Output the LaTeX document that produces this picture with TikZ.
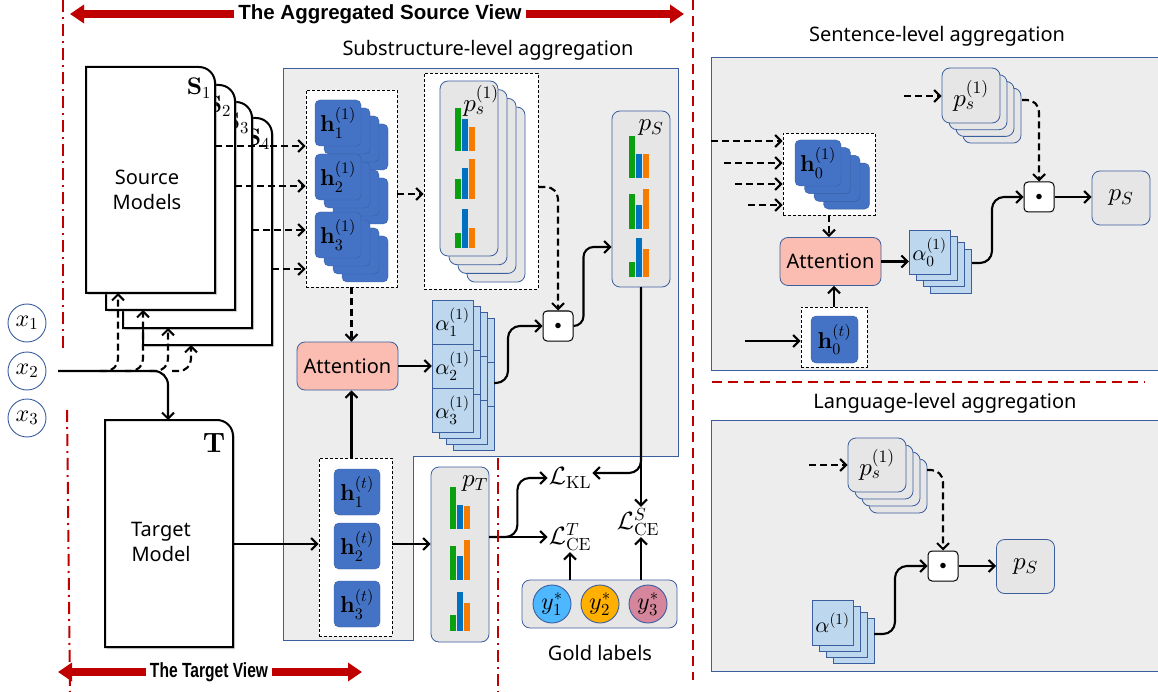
\documentclass[tikz,border=0pt]{standalone}
\usepackage[no-math]{fontspec}
\usepackage{graphicx}
\newfontfamily\uifont{Noto Sans}
\newfontfamily\hdrfont{Liberation Sans}
\usetikzlibrary{arrows.meta,positioning,shadows}

% scalable math fonts
\DeclareFontFamily{OML}{cmm}{\skewchar\font127 }
\DeclareFontShape{OML}{cmm}{m}{it}{<->cmmi10}{}
\DeclareFontShape{OML}{cmm}{b}{it}{<->cmmib10}{}
\DeclareFontFamily{OMS}{cmsy}{\skewchar\font48 }
\DeclareFontShape{OMS}{cmsy}{m}{n}{<->cmsy10}{}
\DeclareFontFamily{OT1}{cmr}{\hyphenchar\font45 }
\DeclareFontShape{OT1}{cmr}{m}{n}{<->cmr10}{}
\DeclareFontShape{OT1}{cmr}{bx}{n}{<->cmbx10}{}
\DeclareFontFamily{OMX}{cmex}{}
\DeclareFontShape{OMX}{cmex}{m}{n}{<->cmex10}{}

\definecolor{viewred}{HTML}{C00000}
\definecolor{hblue}{HTML}{4472C4}
\definecolor{lineblue}{HTML}{3A5E9E}
\definecolor{ablue}{HTML}{BDD7EE}
\definecolor{cardgray}{HTML}{E6E6E6}
\definecolor{panelgray}{HTML}{EDEDED}
\definecolor{attpink}{HTML}{FBBDB1}
\definecolor{bargreen}{HTML}{0BA00F}
\definecolor{barblue}{HTML}{0070C0}
\definecolor{barorange}{HTML}{F57C00}
\definecolor{goldA}{HTML}{4DB8FF}
\definecolor{goldB}{HTML}{FFB000}
\definecolor{goldC}{HTML}{D5869C}

% page with a rounded top-right corner: left, top, right, bottom
\newcommand\srcpage[4]{%
  \draw[pageline] (#1,#4) -- (#1,#2) -- (#3-16,#2)
    arc[start angle=90,end angle=0,radius=16pt] -- (#3,#4) -- cycle;}
% three bars: left, bottom, green, blue, orange heights
\newcommand\bargroup[5]{%
  \fill[bargreen] (#1,#2) rectangle ++(6,-#3);
  \fill[barblue] (#1+7,#2) rectangle ++(6,-#4);
  \fill[barorange] (#1+14,#2) rectangle ++(6,-#5);}

\tikzset{
  lbl/.style={font=\fontsize{25}{29}\selectfont, inner sep=1pt},
  txt/.style={font=\uifont\fontsize{20}{25}\selectfont, align=center},
  hdr/.style={font=\hdrfont\bfseries\fontsize{20.5}{24}\selectfont, inner sep=4pt},
  hcell/.style={draw=lineblue, fill=hblue, rounded corners=5pt, minimum size=46pt,
    inner sep=0pt, font=\fontsize{23}{27}\selectfont},
  acell/.style={draw=lineblue, fill=ablue, minimum width=41pt, minimum height=44pt,
    inner sep=0pt, font=\fontsize{22}{26}\selectfont},
  pcard/.style={draw=lineblue, fill=cardgray, rounded corners=8pt, inner sep=0pt,
    line width=0.8pt, font=\fontsize{25}{29}\selectfont},
  dbox/.style={draw=black, fill=white, dash pattern=on 3pt off 2pt, line width=0.8pt,
    inner sep=0pt},
  attbox/.style={draw=lineblue, fill=attpink, rounded corners=8pt, line width=0.8pt,
    minimum width=101pt, minimum height=48pt, txt},
  odot/.style={draw=black, fill=white, rounded corners=4pt, minimum size=30pt,
    inner sep=0pt, line width=1pt, font=\fontsize{14}{16}\selectfont},
  panel/.style={draw=lineblue, fill=panelgray, line width=0.8pt},
  inputnode/.style={circle, draw=lineblue, minimum size=38pt, inner sep=0pt,
    line width=0.9pt, font=\fontsize{24}{28}\selectfont},
  goldnode/.style={inputnode, draw=lineblue},
  flow/.style={line width=2.1pt, -{Straight Barb[length=6pt,width=12pt]}},
  dflow/.style={flow, dash pattern=on 7pt off 4pt},
  pageline/.style={draw=black, fill=white, line width=2pt,
    drop shadow={shadow xshift=2pt, shadow yshift=-2pt, opacity=0.3}},
  viewarrow/.style={viewred, line width=8pt, -{Triangle[length=14pt,width=18pt]}},
  viewline/.style={viewred, line width=2pt, dash pattern=on 12pt off 5pt on 2pt off 5pt},
  viewdash/.style={viewred, line width=2.2pt, dash pattern=on 10pt off 6pt},
}

\begin{document}
\begin{tikzpicture}[x=1pt,y=-1pt]
  \useasboundingbox (0,0) rectangle (1158,692);

  % Panels
  \draw[panel] (283,68) -- (678,68) -- (678,456) -- (413,456) -- (413,640)
    -- (283,640) -- cycle;
  \draw[panel] (711,57) rectangle (1165,370);
  \draw[panel] (711,420) rectangle (1165,671);
  \node[txt] (subttl) at (488,50) {Substructure-level aggregation};
  \node[txt] (senttl) at (937,36) {Sentence-level aggregation};
  \node[txt] (lanttl) at (945,403) {Language-level aggregation};

  % Source models
  \srcpage{143}{118}{272}{345}
  \node[lbl, font=\fontsize{24}{28}\selectfont] at (258,139) {$\mathbf{S}_4$};
  \srcpage{123}{102}{252}{328}
  \node[lbl, font=\fontsize{24}{28}\selectfont] at (237,123) {$\mathbf{S}_3$};
  \srcpage{106}{85}{235}{310}
  \node[lbl, font=\fontsize{24}{28}\selectfont] at (219,106) {$\mathbf{S}_2$};
  \srcpage{86}{67}{215}{293}
  \node[lbl, font=\fontsize{24}{28}\selectfont] at (199,88) {$\mathbf{S}_1$};
  \node[txt] (srctxt) at (147,190) {Source\\Models};
  \coordinate (in1) at (118,293);
  \coordinate (in2) at (143,310);
  \coordinate (in3) at (168,328);
  \coordinate (in4) at (191,345);
  \coordinate (out1) at (215,146);
  \coordinate (out2) at (235,186);
  \coordinate (out3) at (252,230);
  \coordinate (out4) at (272,269);

  % Target model
  \srcpage{105}{420}{233}{647}
  \node[lbl, font=\fontsize{28}{32}\selectfont] at (214,443) {$\mathbf{T}$};
  \node[txt] (tgttxt) at (161,542) {Target\\Model};
  \coordinate (Ttop) at (168,420);
  \coordinate (Tout) at (233,544);

  % Inputs
  \node[inputnode] (x1) at (27,323) {$x_1$};
  \node[inputnode] (x2) at (27,371) {$x_2$};
  \node[inputnode] (x3) at (27,418) {$x_3$};
  \coordinate (inp) at (58,371);
  \draw[flow, rounded corners=14pt] (inp) -- (168,371) -- (Ttop);
  \foreach \i/\bx in {1/100,2/125,3/150,4/172}
    \draw[dflow, rounded corners=12pt] (\bx,371) -| (in\i);

  % Substructure-level: source states
  \node[dbox, minimum width=91pt, minimum height=197pt] (hsbox) at (351.5,188.5) {};
  \foreach \j/\yy in {1/123,2/177,3/235} {
    \foreach \k in {3,2,1}
      \node[hcell] at (338+9*\k,\yy+8*\k) {};
    \node[hcell] (h\j) at (338,\yy) {$\mathbf{h}_\j^{(1)}$};
  }
  \foreach \i in {1,...,4}
    \draw[dflow] (out\i) -- (out\i -| hsbox.west);

  % Source predictions
  \node[dbox, minimum width=114pt, minimum height=216pt] (psbox) at (481,181) {};
  \foreach \k in {3,2,1}
    \node[pcard, minimum width=58pt, minimum height=175pt] at (469+9*\k,168.5+8.7*\k) {};
  \node[pcard, minimum width=58pt, minimum height=175pt] (ps) at (469,168.5) {};
  \node[lbl] at (481,101) {$p_s^{(1)}$};
  \bargroup{455}{151}{43}{32}{24}
  \bargroup{455}{199}{20}{31}{40}
  \bargroup{455}{248}{15}{39}{20}
  \draw[dflow] ([yshift=-5.5pt]hsbox.east) -- ([yshift=-5.5pt]hsbox.east -| psbox.west);

  % Attention and weights
  \node[attbox] (att) at (347.5,366) {Attention};
  \draw[dflow] (hsbox.south) -- (hsbox.south |- att.north);
  \foreach \k in {3,2,1}
    \foreach \j in {0,1,2}
      \node[acell] at (452.5+7*\k,322+44*\j+6*\k) {};
  \node[acell] (a1) at (452.5,322) {$\alpha_1^{(1)}$};
  \node[acell] (a2) at (452.5,366) {$\alpha_2^{(1)}$};
  \node[acell] (a3) at (452.5,410) {$\alpha_3^{(1)}$};
  \draw[flow] (att.east) -- (att.east -| a2.west);
  \coordinate (aout) at (494,383);

  % Weighted sum
  \node[odot] (dot) at (558,326) {$\bullet$};
  \draw[dflow, rounded corners=12pt] ([yshift=-6pt]psbox.east) -| (dot.north);
  \draw[flow, rounded corners=12pt] (aout) -- ++(14,0) |- (dot.west);
  \node[pcard, minimum width=58pt, minimum height=176pt] (pS) at (641,199) {};
  \node[lbl] at (651,128) {$p_S$};
  \bargroup{629}{178}{42}{24}{24}
  \bargroup{629}{229}{35}{24}{40}
  \bargroup{629}{277}{15}{39}{28}
  \draw[flow, rounded corners=10pt] (dot.east) -- ++(10,0) |- ([yshift=-48pt]pS.west);

  % Target states
  \node[dbox, minimum width=73pt, minimum height=178pt] (htbox) at (355.5,547) {};
  \node[hcell] (ht1) at (357,492) {$\mathbf{h}_1^{(t)}$};
  \node[hcell] (ht2) at (357,546) {$\mathbf{h}_2^{(t)}$};
  \node[hcell] (ht3) at (357,604) {$\mathbf{h}_3^{(t)}$};
  \draw[flow] (Tout) -- (Tout -| htbox.west);
  \draw[flow] (hsbox.south |- htbox.north) -- (hsbox.south |- att.south);

  % Target prediction
  \node[pcard, minimum width=58pt, minimum height=175pt] (pT) at (460,554.5) {};
  \node[lbl] at (475,484) {$p_T$};
  \bargroup{450}{529}{42}{24}{23}
  \bargroup{450}{580}{34}{24}{40}
  \bargroup{450}{631}{16}{39}{28}
  \draw[flow] (Tout -| htbox.east) -- (Tout -| pT.west);

  % Losses
  \node[lbl] (LKL) at (570,478) {$\mathcal{L}_{\mathrm{KL}}$};
  \node[lbl] (LCET) at (570,537) {$\mathcal{L}_{\mathrm{CE}}^{T}$};
  \node[lbl] (LCES) at (638,522) {$\mathcal{L}_{\mathrm{CE}}^{S}$};
  \draw[flow] (pT.east |- LCET.west) -- (LCET.west);
  \draw[flow, rounded corners=12pt] (pT.east |- LCET.west) -- ++(28,0) |- (LKL.west);
  \draw[flow] (pS.south) -- (pS.south |- LCES.north);
  \draw[flow, rounded corners=12pt] (pS.south) |- ([yshift=5pt]LKL.east);

  % Gold labels
  \node[pcard, minimum width=155pt, minimum height=48pt] (gold) at (599.5,604) {};
  \node[goldnode, fill=goldA] (y1) at (552,604) {$y_1^*$};
  \node[goldnode, fill=goldB] (y2) at (600,604) {$y_2^*$};
  \node[goldnode, fill=goldC] (y3) at (648,604) {$y_3^*$};
  \node[txt] (goldtxt) at (600,653) {Gold labels};
  \draw[flow] (gold.north -| LCET.south) -- (LCET.south);
  \draw[flow] (pS.south |- gold.north) -- (pS.south |- LCES.south);

  % Sentence-level aggregation
  \node[dbox, minimum width=92pt, minimum height=82pt] (h0box) at (829,174) {};
  \foreach \k in {3,2,1}
    \node[hcell] at (818+9.5*\k,163+7.7*\k) {};
  \node[hcell] (h0) at (818,163) {$\mathbf{h}_0^{(1)}$};
  \foreach \i/\sx/\sy in {1/711/141,2/724/163,3/735/184,4/748/205} {
    \coordinate (hin\i) at (\sx,\sy);
    \draw[dflow] (hin\i) -- (hin\i -| h0box.west);
  }
  \node[attbox] (att2) at (830.5,261.5) {Attention};
  \draw[dflow] (h0box.south) -- (h0box.south |- att2.north);
  \node[dbox, minimum width=66pt, minimum height=60pt] (ht0box) at (834,337) {};
  \node[hcell, minimum size=47pt] (ht0) at (834.5,339.5) {$\mathbf{h}_0^{(t)}$};
  \coordinate (tin) at (745,341);
  \draw[flow] (tin) -- (tin -| ht0box.west);
  \draw[flow] (ht0box.north) -- (ht0box.north |- att2.south);
  \foreach \k in {3,2,1}
    \node[acell] at (929.5+7*\k,252+6.3*\k) {};
  \node[acell] (a0) at (929.5,252) {$\alpha_0^{(1)}$};
  \draw[flow] (att2.east) -- (att2.east -| a0.west);
  \foreach \k in {3,2,1}
    \node[pcard, minimum width=58pt, minimum height=55pt] at (971+7*\k,95.5+6.7*\k) {};
  \node[pcard, minimum width=58pt, minimum height=55pt] (ps2) at (971,95.5) {$p_s^{(1)}$};
  \coordinate (psin2) at (904,96);
  \draw[dflow] (psin2) -- (psin2 -| ps2.west);
  \node[odot] (dot2) at (1039,197) {$\bullet$};
  \coordinate (ps2out) at (1022,100);
  \draw[dflow, rounded corners=12pt] (ps2out) -| (dot2.north);
  \coordinate (a0out) at (972,263);
  \draw[flow, rounded corners=12pt] (a0out) -- ++(20,0) |- (dot2.west);
  \node[pcard, minimum width=58pt, minimum height=54pt] (pS2) at (1121,198) {$p_S$};
  \draw[flow] (dot2.east) -- (dot2.east -| pS2.west);

  % Language-level aggregation
  \foreach \k in {3,2,1}
    \node[pcard, minimum width=58pt, minimum height=54pt] at (877+7*\k,465+7*\k) {};
  \node[pcard, minimum width=58pt, minimum height=54pt] (ps3) at (877,465) {$p_s^{(1)}$};
  \coordinate (psin3) at (809,465);
  \draw[dflow] (psin3) -- (psin3 -| ps3.west);
  \node[odot] (dot3) at (943,566) {$\bullet$};
  \coordinate (ps3out) at (927,470);
  \draw[dflow, rounded corners=12pt] (ps3out) -| (dot3.north);
  \foreach \k in {3,2,1}
    \node[acell, minimum height=45pt] at (832.5+7*\k,622.5+6*\k) {};
  \node[acell, minimum height=45pt] (a3l) at (832.5,622.5) {$\alpha^{(1)}$};
  \coordinate (a3out) at (874,634);
  \draw[flow, rounded corners=12pt] (a3out) -- ++(21,0) |- (dot3.west);
  \node[pcard, minimum width=58pt, minimum height=54pt] (pS3) at (1025.5,566.5) {$p_S$};
  \draw[flow] (dot3.east) -- (dot3.east -| pS3.west);

  % View markers
  \draw[viewline] (63,0) -- (63,352);
  \draw[viewline] (67,410) -- (70,692);
  \draw[viewline] (498,458) -- (498,692);
  \draw[viewdash] (693,0) -- (693,680);
  \draw[viewdash] (712,382) -- (1145,382);
  \node[hdr] (aggview) at (380,14) {The Aggregated Source View};
  \coordinate (aggL) at (70,14);
  \coordinate (aggR) at (684,14);
  \draw[viewarrow] (aggview.west) -- (aggL);
  \draw[viewarrow] (aggview.east) -- (aggR);
  \node[hdr] (tgtview) at (209,672) {\scalebox{0.76}[1]{The Target View}};
  \coordinate (tgtL) at (58,672);
  \coordinate (tgtR) at (362,672);
  \draw[viewarrow] (tgtview.west) -- (tgtL);
  \draw[viewarrow] (tgtview.east) -- (tgtR);
\end{tikzpicture}
\end{document}
